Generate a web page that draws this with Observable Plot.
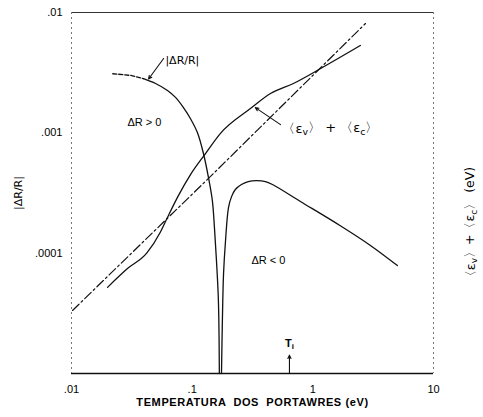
<!DOCTYPE html>
<html><head><meta charset="utf-8">
<script src="https://cdn.jsdelivr.net/npm/d3@7"></script>
<script src="https://cdn.jsdelivr.net/npm/@observablehq/plot@0.6"></script>
<style>body{margin:0;background:#fff}</style>
</head><body><div id="chart"></div>
<script>
// ---- tick labels ----
const xTicks = [0.01, 0.1, 1, 10];
const xTickLabels = [".01", ".1", "1", "10"];
const leftTicks = [0.01, 0.001, 0.0001];
const leftTickLabels = [".01", ".001", ".0001"];
const rightTicks = [10, 1, 0.1, 0.01];          // eV
const rightTickLabels = ["10", "1", ".1", ".01"];
const EPS_TO_Y = 1e-3;                          // right axis decades line up with left: 10 eV <-> .01

// ---- |ΔR/R| curve (ΔR>0 branch), dashed start ----
const drrDashT = [0.022, 0.031, 0.0395];
const drrDashV = [3.1e-3, 3.0e-3, 2.82e-3];
// solid, ΔR>0
const drrPosT = [0.0395, 0.0497, 0.0624, 0.0728, 0.0847, 0.0969, 0.1107, 0.124, 0.1365, 0.147, 0.153, 0.159, 0.165, 0.168];
const drrPosV = [2.82e-3, 2.57e-3, 2.25e-3, 1.97e-3, 1.62e-3, 1.31e-3, 1.0e-3, 6.73e-4, 4.25e-4, 2.73e-4, 1.63e-4, 8.67e-5, 4.03e-5, 1.0e-5];
// ΔR<0 branch
const drrNegT = [0.175, 0.178, 0.182, 0.189, 0.200, 0.212, 0.228, 0.256, 0.292, 0.341, 0.405, 0.463, 0.789, 1.69, 3.00, 5.02];
const drrNegV = [1.0e-5, 2.75e-5, 6.76e-5, 1.27e-4, 2.39e-4, 2.95e-4, 3.38e-4, 3.72e-4, 3.94e-4, 4.01e-4, 3.94e-4, 3.72e-4, 2.69e-4, 1.69e-4, 1.16e-4, 7.89e-5];

// ---- <εv>+<εc> (eV), solid curve ----
const epsT = [0.0199, 0.0291, 0.0420, 0.0546, 0.0624, 0.0769, 0.0969, 0.129, 0.171, 0.304, 0.446, 0.690, 1.20, 2.48];
const epsV = [0.052, 0.0745, 0.100, 0.150, 0.198, 0.301, 0.45, 0.673, 0.986, 1.59, 2.12, 2.57, 3.49, 5.32];
// dash-dot reference line (eV)
const refT = [0.0102, 0.1365, 2.73];
const refV = [0.0334, 0.418, 8.1];

// ---- annotations ----
const drrArrow = [{x1: 0.058, y1: 4.15e-3, x2: 0.0435, y2: 2.8e-3}];
const drrLabel = [{T: 0.06, v: 4.0e-3, text: "|ΔR/R|"}];
const epsArrow = [{x1: 0.54, y1: 1.17, x2: 0.334, y2: 1.62}];          // eV
const epsLabel = [{T: 0.56, e: 1.09, text: "〈ε_v〉 + 〈ε_c〉"}];        // eV
const regionLabels = [{T: 0.0402, v: 1.22e-3, text: "ΔR > 0"}, {T: 0.428, v: 8.7e-5, text: "ΔR < 0"}];
const tiArrow = [{x: 0.64, y1: 1.0e-5, y2: 1.42e-5}];
const tiLabel = [{T: 0.64, v: 1.78e-5, text: "T_i"}];

const zip = (xs, ys) => xs.map((x, i) => ({x, y: ys[i]}));
const MATH_FONT = "'DejaVu Sans', 'Liberation Sans', sans-serif";

const chart = Plot.plot({
  width: 483, height: 417,
  marginLeft: 71, marginRight: 50, marginTop: 12, marginBottom: 44,
  style: {fontFamily: "'Liberation Sans', Arial, sans-serif", fontSize: "11px", background: "white", color: "black", overflow: "visible"},
  x: {type: "log", domain: [0.01, 10]},
  y: {type: "log", domain: [1e-5, 1e-2]},
  marks: [
    // frame
    Plot.ruleY([1e-5], {stroke: "#111", strokeWidth: 1.3}),
    Plot.ruleY([1e-2], {stroke: "#333", strokeWidth: 1}),
    Plot.ruleX([0.01], {stroke: "#777", strokeWidth: 1, strokeDasharray: "2,3"}),
    Plot.ruleX([10], {stroke: "#777", strokeWidth: 1, strokeDasharray: "2,3"}),
    // axes
    Plot.axisX({ticks: xTicks, tickSize: 0, tickPadding: 12, tickFormat: d => xTickLabels[xTicks.indexOf(d)], label: null, fontSize: 11}),
    Plot.axisY({anchor: "left", ticks: leftTicks, tickSize: 0, tickPadding: 9, tickFormat: d => leftTickLabels[leftTicks.indexOf(d)], label: null}),
    Plot.axisY({anchor: "right", ticks: rightTicks.map(e => e * EPS_TO_Y), tickSize: 0, tickPadding: 8,
      tickFormat: (d, i) => rightTickLabels[i], label: null}),
    // axis titles
    Plot.text(["TEMPERATURA  DOS  PORTAWRES (eV)"], {frameAnchor: "bottom", dy: 32, fontWeight: "bold", fontSize: 11, text: d => d, className: "xtitle"}),
    Plot.text(["|ΔR/R|"], {frameAnchor: "left", dx: -53, rotate: -90, textAnchor: "middle", fontSize: 11, fontFamily: MATH_FONT, text: d => d}),
    Plot.text(["〈ε_v〉+〈ε_c〉 (eV)"], {frameAnchor: "right", dx: 37, dy: 32, rotate: -90, textAnchor: "middle", fontSize: 12.5, fontFamily: MATH_FONT, text: d => d}),
    // dash-dot reference
    Plot.line(zip(refT, refV), {x: "x", y: d => d.y * EPS_TO_Y, stroke: "#111", strokeWidth: 1.2, strokeDasharray: "9,3,2,3"}),
    // eps solid
    Plot.line(zip(epsT, epsV), {x: "x", y: d => d.y * EPS_TO_Y, stroke: "#111", strokeWidth: 1.3, curve: "monotone-x"}),
    // |ΔR/R|
    Plot.line(zip(drrDashT, drrDashV), {x: "x", y: "y", stroke: "#111", strokeWidth: 1.4, strokeDasharray: "4,2"}),
    Plot.line(zip(drrPosT, drrPosV), {x: "x", y: "y", stroke: "#111", strokeWidth: 1.3, curve: "catmull-rom"}),
    Plot.line(zip(drrNegT, drrNegV), {x: "x", y: "y", stroke: "#111", strokeWidth: 1.3, curve: "catmull-rom"}),
    // annotations
    Plot.arrow(drrArrow, {x1: "x1", y1: "y1", x2: "x2", y2: "y2", stroke: "#111", strokeWidth: 1.1, headLength: 5, headAngle: 50}),
    Plot.text(drrLabel, {x: "T", y: "v", text: "text", textAnchor: "start", fontSize: 11, fontFamily: MATH_FONT}),
    Plot.arrow(epsArrow, {x1: "x1", y1: d => d.y1 * EPS_TO_Y, x2: "x2", y2: d => d.y2 * EPS_TO_Y, stroke: "#111", strokeWidth: 1.1, headLength: 5, headAngle: 50}),
    Plot.text(epsLabel, {x: "T", y: d => d.e * EPS_TO_Y, text: "text", textAnchor: "start", fontSize: 13, fontFamily: MATH_FONT}),
    Plot.text(regionLabels, {x: "T", y: "v", text: "text", fontSize: 11}),
    Plot.arrow(tiArrow, {x: "x", y1: "y1", y2: "y2", stroke: "#111", strokeWidth: 1.1, headLength: 5, headAngle: 50}),
    Plot.text(tiLabel, {x: "T", y: "v", text: "text", fontSize: 11, fontWeight: "bold"})
  ]
});

// turn "_x" markers into real subscripts
chart.querySelectorAll("text").forEach(t => {
  if (!t.textContent.includes("_") || t.children.length) return;
  const parts = t.textContent.split(/_(\w)/);
  t.textContent = "";
  parts.forEach((p, i) => {
    if (!p) return;
    const ts = document.createElementNS("http://www.w3.org/2000/svg", "tspan");
    ts.textContent = p;
    if (i % 2 === 1) {
      ts.setAttribute("font-size", "0.72em");
      ts.setAttribute("dy", "0.3em");
    } else if (i > 0) {
      ts.setAttribute("dy", "-0.22em");
    }
    t.appendChild(ts);
  });
});
chart.querySelectorAll(".xtitle text").forEach(t => t.setAttribute("letter-spacing", "0.6"));
document.getElementById("chart").append(chart);
</script>
</body></html>
